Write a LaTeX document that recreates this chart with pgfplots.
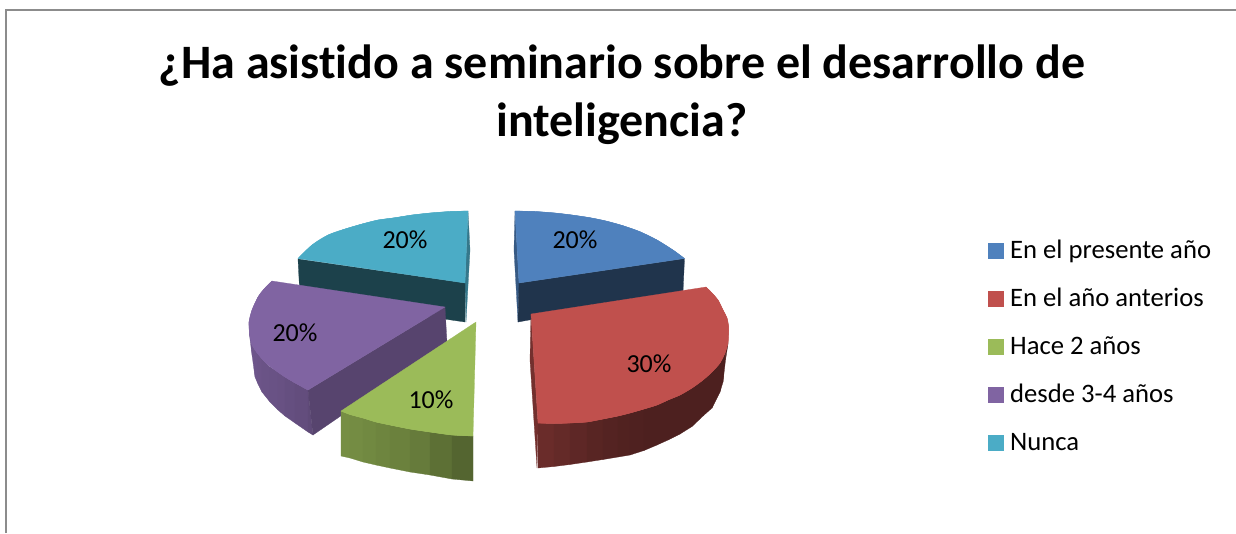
\documentclass[border=0pt]{standalone}
\usepackage{pgfplots}
\pgfplotsset{compat=1.18}
\usepackage{fontspec}
\setmainfont{Carlito}[Ligatures=NoCommon]
\definecolor{cB}{HTML}{4F81BD}
\definecolor{cR}{HTML}{C0504D}
\definecolor{cG}{HTML}{9BBB59}
\definecolor{cP}{HTML}{8064A2}
\definecolor{cT}{HTML}{4BACC6}
\newcommand{\poly}[2]{\addplot[fill=#1,draw=#1,line width=0.2pt,forget plot] coordinates {#2} -- cycle;}
\newcommand{\arcf}[2]{\addplot[fill=#1,draw=#1,line width=0.2pt,smooth,tension=0.6,forget plot] coordinates {#2};}
\newcommand{\strip}[7]{\poly{#1}{(#2,#3)(#5,#6)(#5,#7)(#2,#4)}}
\newcommand{\lab}[3]{\node[font=\fontsize{19.5}{23}\selectfont,text=black] at (axis cs:#1,#2) {#3};}
\begin{document}
\begin{tikzpicture}
\begin{axis}[
  scale only axis, width=927pt, height=399.75pt,
  xmin=0, xmax=1236, ymin=0, ymax=533, y dir=reverse,
  hide axis,
  legend style={at={(axis cs:988,221)}, anchor=north west, draw=none, fill=none,
    font=\fontsize{20}{24}\selectfont, row sep=0pt, inner sep=0pt, outer sep=0pt,
    nodes={inner sep=0pt, anchor=base west, text height=28pt, text depth=8pt}},
  legend cell align=left,
  legend image code/.code={\fill[#1] (0pt,0pt) rectangle (11.4pt,11.4pt); \path (16.2pt,0pt);},
]
% background and frame
\poly{white}{(0,0)(1236,0)(1236,533)(0,533)}
\addplot[color=black!45,line width=1.5pt,forget plot] coordinates {(6,533)(6,10)(1236,10)};

% Nunca (teal)
\poly{cT!70!black}{(468,211)(470,250)(466,322)(465,283)}
\poly{cT!38!black}{(298,259)(465,283)(465,322)(300,298)}
\arcf{cT}{(298,258.5)(312,245)(328,235)(345,229)(362,224)(378,220)(395,217.7)(412,215)(430,213)(450,211.5)(468,211)}
\poly{cT}{(465,283)(298,258.5)(312,245)(328,235)(345,229)(362,224)(378,220)(395,217.7)(412,215)(430,213)(450,211.5)(468,211)}

% Presente (blue)
\poly{cB!70!black}{(515,211)(519,283)(518,322)(514,250)}
\poly{cB!40!black}{(519,283)(684.5,258.5)(683,292)(518,322)}
\arcf{cB}{(515,211)(535,211.5)(555,213)(572,215)(590,217.7)(606,221)(623,225.7)(640,231.7)(657,240)(673,250)(684.5,258.5)}
\poly{cB}{(519,283)(515,211)(535,211.5)(555,213)(572,215)(590,217.7)(606,221)(623,225.7)(640,231.7)(657,240)(673,250)(684.5,258.5)}

% desde 3-4 (purple)
\strip{cP!88!black}{249}{322}{323}{249.5}{333}{335}
\strip{cP!87!black}{249.5}{333}{335}{252}{345}{355}
\strip{cP!86!black}{252}{345}{355}{255}{350}{377}
\strip{cP!85!black}{255}{350}{377}{258}{354}{384}
\strip{cP!84!black}{258}{354}{384}{262}{359}{392}
\strip{cP!83!black}{262}{359}{392}{270}{367}{402}
\strip{cP!82!black}{270}{367}{402}{278}{372}{410}
\strip{cP!81!black}{278}{372}{410}{285}{377}{416}
\strip{cP!79!black}{285}{377}{416}{295}{383}{423}
\strip{cP!77!black}{295}{383}{423}{308}{390}{432}
\poly{cP!74!black}{(308,390)(313,435)(308,432)}
\poly{cP!68!black}{(308,390)(445,307)(447,343)(313,435)}
\arcf{cP}{(272,281)(264,289)(258,297)(252,310)(249,322)(249.5,333)(252,345)(258,354)(265,362)(275,370)(285,377)(297,384)(308,390)}
\poly{cP}{(445,307)(272,281)(264,289)(258,297)(252,310)(249,322)(249.5,333)(252,345)(258,354)(265,362)(275,370)(285,377)(297,384)(308,390)}

% Hace 2 anos (green)
\strip{cG!76!black}{341}{411}{456}{350}{414.5}{458}
\strip{cG!75!black}{350}{414.5}{458}{363}{418}{462}
\strip{cG!73!black}{363}{418}{462}{376}{422}{465}
\strip{cG!71!black}{376}{422}{465}{390}{425}{468}
\strip{cG!69!black}{390}{425}{468}{410}{429}{472}
\strip{cG!66!black}{410}{429}{472}{430}{432}{475}
\strip{cG!60!black}{430}{432}{475}{452}{435}{479}
\strip{cG!54!black}{452}{435}{479}{473}{436}{481}
\arcf{cG}{(341,411)(350,414.5)(363,418)(376,422)(390,425)(410,429)(430,432)(452,435)(473,436)}
\poly{cG}{(476,322)(341,411)(350,414.5)(363,418)(376,422)(390,425)(410,429)(430,432)(452,435)(473,436)}

% Anterior (red)
\poly{cR!60!black}{(531,314)(538,423)(537,468)(530,360)}
\strip{cR!55!black}{538}{423}{468}{554}{423.5}{466.5}
\strip{cR!52!black}{554}{423.5}{466.5}{570}{423}{464.5}
\strip{cR!49!black}{570}{423}{464.5}{587}{422}{462}
\strip{cR!46!black}{587}{422}{462}{603}{419}{459.5}
\strip{cR!44!black}{603}{419}{459.5}{618}{416}{457}
\strip{cR!42!black}{618}{416}{457}{630}{413}{455}
\strip{cR!41!black}{630}{413}{455}{644}{409}{450.5}
\strip{cR!40!black}{644}{409}{450.5}{657}{405}{445}
\strip{cR!40!black}{657}{405}{445}{668}{400}{440}
\strip{cR!40!black}{668}{400}{440}{680}{395}{434}
\strip{cR!40!black}{680}{395}{434}{692}{388}{426.5}
\strip{cR!40!black}{692}{388}{426.5}{703}{380}{416}
\strip{cR!40!black}{703}{380}{416}{712}{372}{408}
\strip{cR!40!black}{712}{372}{408}{720}{363}{392}
\strip{cR!40!black}{720}{363}{392}{723}{357}{382}
\strip{cR!40!black}{723}{357}{382}{725.5}{352}{360}
\strip{cR!40!black}{725.5}{352}{360}{728}{343}{344}
\arcf{cR}{(706,287)(712,293)(718,300)(723,310)(727,318)(728.5,326)(728.5,335)(728,343)(725,353)(720,363)(712,372)(703,380)(692,388)(680,395)(668,400)(657,405)(644,409)(630,413)(618,416)(603,419)(587,422)(570,423)(554,423.5)(538,423)}
\poly{cR}{(531,314)(706,287)(712,293)(718,300)(723,310)(727,318)(728.5,326)(728.5,335)(728,343)(725,353)(720,363)(712,372)(703,380)(692,388)(680,395)(668,400)(657,405)(644,409)(630,413)(618,416)(603,419)(587,422)(570,423)(554,423.5)(538,423)}

\lab{575}{240}{20\%}
\lab{649}{364}{30\%}
\lab{431}{400}{10\%}
\lab{295}{333}{20\%}
\lab{405}{240}{20\%}

\node[font=\fontsize{36}{43.5}\selectfont\bfseries,align=center] at (axis cs:622,95)
  {¿Ha asistido a seminario sobre el desarrollo de\\inteligencia?};

\addlegendimage{cB}\addlegendentry{En el presente año}
\addlegendimage{cR}\addlegendentry{En el año anterios}
\addlegendimage{cG}\addlegendentry{Hace 2 años}
\addlegendimage{cP}\addlegendentry{desde 3-4 años}
\addlegendimage{cT}\addlegendentry{Nunca}
\end{axis}
\end{tikzpicture}
\end{document}
